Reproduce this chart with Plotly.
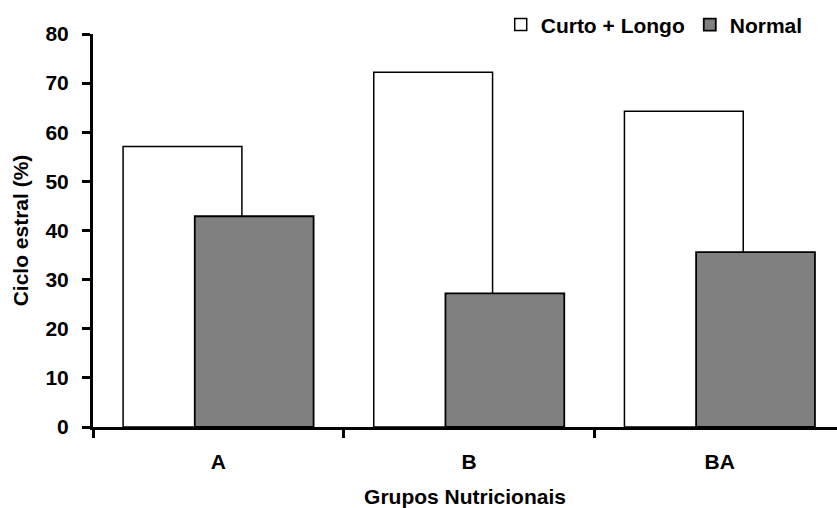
import plotly.graph_objects as go

categories = ["A", "B", "BA"]
curto_longo = [57.1, 72.2, 64.3]
normal = [42.9, 27.2, 35.6]
y_ticks = [0, 10, 20, 30, 40, 50, 60, 70, 80]

FONT = "Liberation Sans, Arial, sans-serif"

fig = go.Figure()
fig.add_trace(go.Bar(
    x=categories, y=curto_longo, name="Curto + Longo",
    marker=dict(color="white", line=dict(color="black", width=1.5)),
    width=0.474, offset=-0.38,
))
fig.add_trace(go.Bar(
    x=categories, y=normal, name="Normal",
    marker=dict(color="#808080", line=dict(color="black", width=1.8)),
    width=0.474, offset=-0.094,
))

fig.update_layout(
    width=837, height=508,
    margin=dict(l=93, r=0, t=34, b=81),
    paper_bgcolor="white", plot_bgcolor="white",
    barmode="overlay",
    font=dict(family=FONT, size=21, color="black"),
    showlegend=True,
    legend=dict(
        orientation="h", x=0.548, xanchor="left", y=1.023, yanchor="middle",
        font=dict(family=FONT, size=21, color="black", weight="bold"),
        bgcolor="rgba(0,0,0,0)", itemwidth=30, traceorder="normal",
    ),
    xaxis=dict(
        type="category", range=[-0.5, 2.468],
        showline=True, linecolor="black", linewidth=3,
        ticks="outside", ticklen=8, tickwidth=3, tickcolor="black",
        tickson="boundaries", showgrid=False, zeroline=False,
        tickfont=dict(family=FONT, size=21, color="black", weight="bold"),
        ticklabelstandoff=14,
        title=dict(text="<b>Grupos Nutricionais</b>", standoff=18,
                   font=dict(family=FONT, size=21, color="black")),
    ),
    yaxis=dict(
        range=[0, 80], tickvals=y_ticks,
        showline=True, linecolor="black", linewidth=3,
        ticks="outside", ticklen=8, tickwidth=3, tickcolor="black",
        showgrid=False, zeroline=False,
        tickfont=dict(family=FONT, size=21, color="black", weight="bold"),
        ticklabelstandoff=9,
        title=dict(text="<b>Ciclo estral (%)</b>", standoff=12,
                   font=dict(family=FONT, size=21, color="black")),
    ),
)

fig.write_html("out.html")
